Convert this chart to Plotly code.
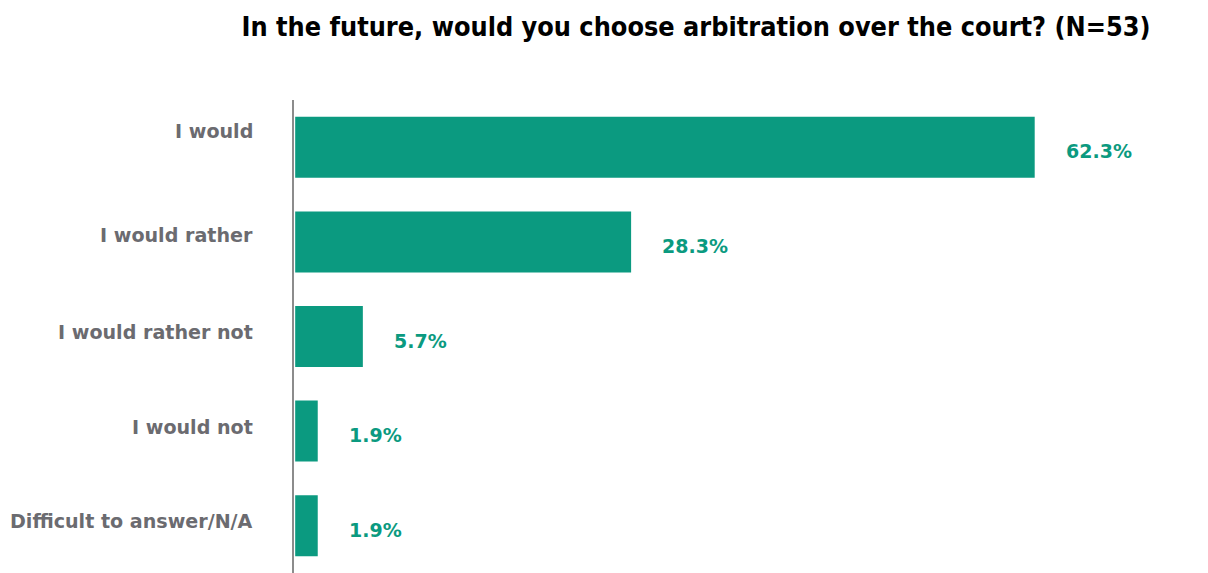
import plotly.graph_objects as go

# Survey answers, top to bottom
categories = [
    "I would",
    "I would rather",
    "I would rather not",
    "I would not",
    "Difficult to answer/N/A",
]
shares = [62.3, 28.3, 5.7, 1.9, 1.9]
share_labels = ["62.3%", "28.3%", "5.7%", "1.9%", "1.9%"]

TEAL = "#0b9a80"
GREY_TEXT = "#6b6b70"
AXIS_GREY = "#8c8c8c"

# Vertical nudges (px) for the category captions
caption_lift = [16, 6, 4, 4, 4]

fig = go.Figure(
    go.Bar(
        x=shares,
        y=categories,
        orientation="h",
        marker=dict(color=TEAL, line=dict(width=0)),
        hoverinfo="skip",
    )
)

# Value labels to the right of each bar
for cat, val, txt in zip(categories, shares, share_labels):
    fig.add_annotation(
        x=val,
        y=cat,
        text=txt,
        showarrow=False,
        xanchor="left",
        yanchor="middle",
        xshift=29,
        yshift=-4,
        font=dict(family="DejaVu Sans", size=19, color=TEAL, weight="bold"),
    )

# Category captions, right-aligned left of the axis line
for cat, lift in zip(categories, caption_lift):
    fig.add_annotation(
        x=0,
        xref="paper",
        y=cat,
        text=cat,
        showarrow=False,
        xanchor="right",
        yanchor="middle",
        xshift=-39,
        yshift=lift,
        font=dict(family="DejaVu Sans", size=19.1, color=GREY_TEXT, weight="bold"),
    )

fig.update_layout(
    width=1208,
    height=573,
    margin=dict(l=294, r=0, t=100, b=0),
    paper_bgcolor="white",
    plot_bgcolor="white",
    bargap=0.355,
    showlegend=False,
    title=dict(
        text="<b>In the future, would you choose arbitration over the court? (N=53)</b>",
        x=696 / 1208,
        xanchor="center",
        y=1 - 27 / 573,
        yanchor="middle",
        font=dict(family="DejaVu Sans Condensed", size=26.8, color="black"),
    ),
    xaxis=dict(
        range=[-0.1, 76.9],
        visible=False,
        fixedrange=True,
    ),
    yaxis=dict(
        autorange="reversed",
        showgrid=False,
        zeroline=False,
        showline=True,
        linecolor=AXIS_GREY,
        linewidth=2,
        ticks="",
        showticklabels=False,
        fixedrange=True,
    ),
)

fig.write_html("out.html")
